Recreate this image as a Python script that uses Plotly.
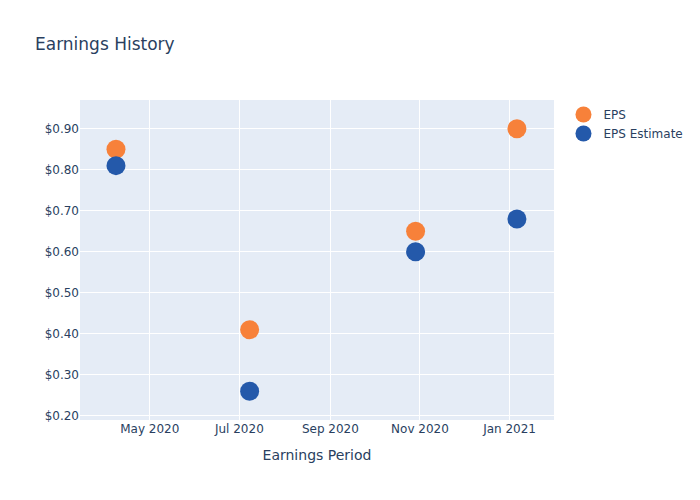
import plotly.graph_objects as go

periods = ["2020-04-08", "2020-07-08", "2020-10-29", "2021-01-06"]
eps = [0.85, 0.41, 0.65, 0.90]
eps_estimate = [0.81, 0.26, 0.60, 0.68]

fig = go.Figure()
fig.add_trace(go.Scatter(x=periods, y=eps, mode="markers", name="EPS",
                         marker=dict(color="#F7813A", size=19)))
fig.add_trace(go.Scatter(x=periods, y=eps_estimate, mode="markers", name="EPS Estimate",
                         marker=dict(color="#2459AA", size=19)))
fig.update_layout(
    width=700, height=500,
    font=dict(family="DejaVu Sans"),
    title=dict(text="Earnings History"),
    xaxis=dict(title=dict(text="Earnings Period"),
               range=["2020-03-14 12:00", "2021-01-31 06:00"]),
    yaxis=dict(tickformat="$.2f", range=[0.190, 0.970]),
)
fig.write_html("out.html", config={"displayModeBar": False},
               post_script="document.body.style.margin='0';")
